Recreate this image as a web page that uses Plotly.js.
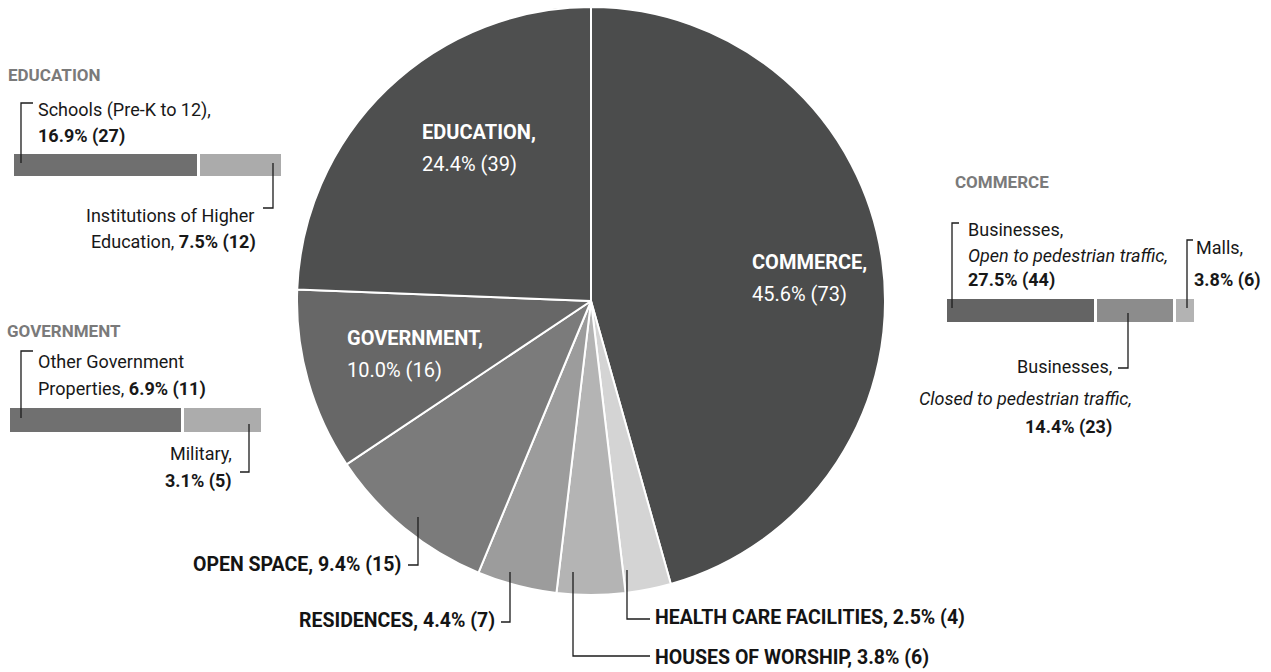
<!DOCTYPE html>
<html>
<head>
<meta charset="utf-8">
<script src="https://cdn.plot.ly/plotly-3.0.1.min.js"></script>
<style>html,body{margin:0;padding:0;background:#fff;}#chart{width:1271px;height:672px;}</style>
</head>
<body>
<div id="chart"></div>
<script>
// ---- data ----
const pieLabels = ['COMMERCE', 'HEALTH CARE FACILITIES', 'HOUSES OF WORSHIP', 'RESIDENCES', 'OPEN SPACE', 'GOVERNMENT', 'EDUCATION'];
const pieValues = [73, 4, 6, 7, 15, 16, 39];
const eduLabels = ['Schools (Pre-K to 12)', 'Institutions of Higher Education'];
const eduValues = [27, 12];
const govLabels = ['Other Government Properties', 'Military'];
const govValues = [11, 5];
const comLabels = ['Businesses, Open to pedestrian traffic', 'Businesses, Closed to pedestrian traffic', 'Malls'];
const comValues = [44, 23, 6];

// ---- helpers ----
const W = 1271, H = 672;
const X = p => p / W;
const Y = p => 1 - p / H;
const total = pieValues.reduce((a, b) => a + b, 0);
const pct = v => (Math.round(v * 1000 / total) / 10).toFixed(1) + '%';
const cnt = v => '(' + v + ')';
const FONT = 'Roboto, Liberation Sans, Arial, sans-serif';

const pieColors = ['#4b4c4c', '#d4d4d4', '#b4b4b4', '#9c9c9c', '#7b7b7b', '#676767', '#4e4f4f'];

const traces = [];
traces.push({
  type: 'pie',
  labels: pieLabels,
  values: pieValues,
  sort: false,
  direction: 'clockwise',
  rotation: 0,
  textinfo: 'none',
  hoverinfo: 'none',
  showlegend: false,
  marker: {colors: pieColors, line: {color: '#ffffff', width: 2}},
  domain: {x: [X(297), X(885)], y: [Y(595), Y(7)]}
});

function barGroup(labels, values, colors, ax, ay) {
  labels.forEach((lab, i) => {
    traces.push({
      type: 'bar', orientation: 'h',
      x: [values[i]], y: ['g'], name: lab,
      xaxis: ax, yaxis: ay,
      marker: {color: colors[i], line: {color: '#ffffff', width: 3}},
      hoverinfo: 'none', showlegend: false
    });
  });
}
barGroup(eduLabels, eduValues, ['#6f6f6f', '#ababab'], 'x2', 'y2');
barGroup(govLabels, govValues, ['#707070', '#acacac'], 'x3', 'y3');
barGroup(comLabels, comValues, ['#646464', '#8c8c8c', '#b3b3b3'], 'x4', 'y4');

const hidden = {visible: false, fixedrange: true};
const eduTot = eduValues.reduce((a, b) => a + b, 0);
const govTot = govValues.reduce((a, b) => a + b, 0);
const comTot = comValues.reduce((a, b) => a + b, 0);

const ann = [];
function txt(x, y, text, opt) {
  opt = opt || {};
  ann.push(Object.assign({
    xref: 'paper', yref: 'paper', x: X(x), y: Y(y), text: text, showarrow: false,
    xanchor: 'left', yanchor: 'middle', align: 'left',
    font: {family: FONT, size: 18, color: '#181818'}
  }, opt));
}
// pie labels (white, inside)
const idx = l => pieLabels.indexOf(l);
const white = {family: FONT, size: 20, color: '#ffffff'};
[['EDUCATION', 420, 132], ['GOVERNMENT', 345, 338], ['COMMERCE', 750, 262]].forEach(([l, x, y]) => {
  const v = pieValues[idx(l)];
  txt(x, y, '<b>' + l + ',</b>', {font: white});
  txt(x, y + 32, pct(v) + ' ' + cnt(v), {font: white});
});
// bottom labels
const boldB = {family: FONT, size: 19.5, color: '#141414'};
const lab = l => '<b>' + l + ', ' + pct(pieValues[idx(l)]) + ' ' + cnt(pieValues[idx(l)]) + '</b>';
txt(403, 564, lab('OPEN SPACE'), {xanchor: 'right', align: 'right', font: boldB});
txt(497, 620, lab('RESIDENCES'), {xanchor: 'right', align: 'right', font: boldB});
txt(653, 617, lab('HEALTH CARE FACILITIES'), {font: boldB});
txt(653, 657, lab('HOUSES OF WORSHIP'), {font: boldB});

// headers
const head = {family: FONT, size: 17, color: '#7a7a7a'};
txt(6, 75, '<b>EDUCATION</b>', {font: head});
txt(5, 331, '<b>GOVERNMENT</b>', {font: head});
txt(953, 182, '<b>COMMERCE</b>', {font: head});

// education side labels
txt(36, 110, 'Schools (Pre-K to 12),');
txt(36, 136, '<b>' + pct(eduValues[0]) + ' ' + cnt(eduValues[0]) + '</b>');
txt(256, 216, 'Institutions of Higher', {xanchor: 'right', align: 'right'});
txt(258, 242, 'Education, <b>' + pct(eduValues[1]) + ' ' + cnt(eduValues[1]) + '</b>', {xanchor: 'right', align: 'right'});
// government side labels
txt(36, 361, 'Other Government');
txt(36, 389, 'Properties, <b>' + pct(govValues[0]) + ' ' + cnt(govValues[0]) + '</b>');
txt(234, 453, 'Military,', {xanchor: 'right', align: 'right'});
txt(234, 481, '<b>' + pct(govValues[1]) + ' ' + cnt(govValues[1]) + '</b>', {xanchor: 'right', align: 'right'});
// commerce side labels
txt(966, 229, 'Businesses,');
txt(966, 255, '<i>Open to pedestrian traffic,</i>');
txt(966, 280, '<b>' + pct(comValues[0]) + ' ' + cnt(comValues[0]) + '</b>');
txt(1194, 247, 'Malls,');
txt(1192, 280, '<b>' + pct(comValues[2]) + ' ' + cnt(comValues[2]) + '</b>');
txt(1114, 367, 'Businesses,', {xanchor: 'right', align: 'right'});
txt(1134, 398, '<i>Closed to pedestrian traffic,</i>', {xanchor: 'right', align: 'right'});
txt(1114, 427, '<b>' + pct(comValues[1]) + ' ' + cnt(comValues[1]) + '</b>', {xanchor: 'right', align: 'right'});

// leader lines (paths in pixel coords)
const shapes = [];
function path(pts) {
  const d = pts.map((p, i) => (i ? 'L' : 'M') + X(p[0]).toFixed(5) + ',' + Y(p[1]).toFixed(5)).join(' ');
  shapes.push({type: 'path', xref: 'paper', yref: 'paper', path: d, line: {color: '#1c1c1c', width: 1.3}});
}
path([[33, 103], [21, 103], [21, 163]]);
path([[273, 163], [273, 208], [263, 208]]);
path([[33, 351], [21, 351], [21, 418]]);
path([[249, 424], [249, 472], [240, 472]]);
path([[959, 223], [952, 223], [952, 308]]);
path([[1193, 240], [1187, 240], [1187, 308]]);
path([[1128, 313], [1128, 368], [1118, 368]]);
// pie leaders
path([[418, 517], [418, 565], [408, 565]]);
path([[510, 572], [510, 622], [501, 622]]);
path([[627, 570], [627, 619], [650, 619]]);
path([[573, 572], [573, 656], [650, 656]]);

const layout = {
  width: W, height: H,
  margin: {l: 0, r: 0, t: 0, b: 0},
  paper_bgcolor: '#ffffff', plot_bgcolor: 'rgba(0,0,0,0)',
  barmode: 'stack', bargap: 0,
  showlegend: false,
  xaxis2: Object.assign({domain: [X(12), X(282)], range: [0, eduTot], anchor: 'y2'}, hidden),
  yaxis2: Object.assign({domain: [Y(177), Y(152)], range: [-0.5, 0.5], anchor: 'x2'}, hidden),
  xaxis3: Object.assign({domain: [X(8), X(262)], range: [0, govTot], anchor: 'y3'}, hidden),
  yaxis3: Object.assign({domain: [Y(433), Y(406)], range: [-0.5, 0.5], anchor: 'x3'}, hidden),
  xaxis4: Object.assign({domain: [X(945), X(1195)], range: [0, comTot], anchor: 'y4'}, hidden),
  yaxis4: Object.assign({domain: [Y(323), Y(297)], range: [-0.5, 0.5], anchor: 'x4'}, hidden),
  annotations: ann,
  shapes: shapes
};
Plotly.newPlot('chart', traces, layout, {displayModeBar: false, staticPlot: true});
</script>
</body>
</html>
